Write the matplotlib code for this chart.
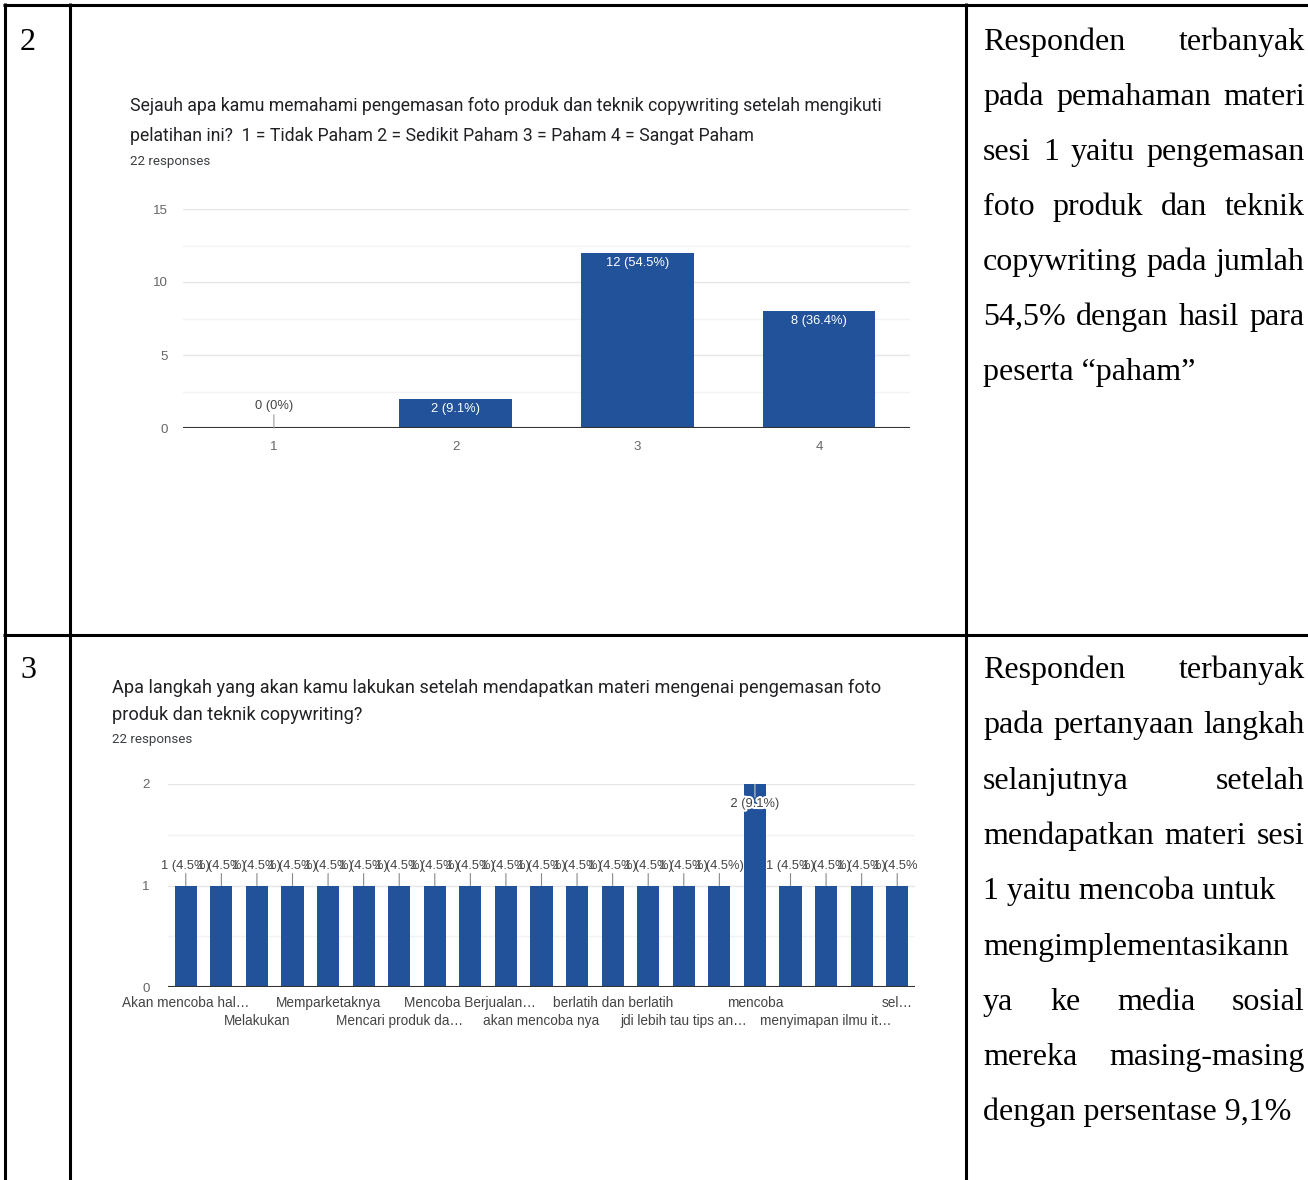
import matplotlib
matplotlib.use("Agg")
import matplotlib.pyplot as plt
from matplotlib import patheffects
from matplotlib.lines import Line2D
from matplotlib.patches import Rectangle

# ---------------- data ----------------
q1_title = ["Sejauh apa kamu memahami pengemasan foto produk dan teknik copywriting setelah mengikuti",
            "pelatihan ini?  1 = Tidak Paham 2 = Sedikit Paham 3 = Paham 4 = Sangat Paham"]
q1_categories = [1, 2, 3, 4]
q1_counts = [0, 2, 12, 8]
q1_responses = 22
q1_yticks = [0, 5, 10, 15]

q2_title = ["Apa langkah yang akan kamu lakukan setelah mendapatkan materi mengenai pengemasan foto",
            "produk dan teknik copywriting?"]
q2_labels = ["Akan mencoba hal…", "", "Melakukan", "", "Memparketaknya", "",
             "Mencari produk da…", "", "Mencoba Berjualan…", "", "akan mencoba nya", "",
             "berlatih dan berlatih", "", "jdi lebih tau tips an…", "", "mencoba", "",
             "menyimapan ilmu it…", "", "sel…"]
q2_counts = [1, 1, 1, 1, 1, 1, 1, 1, 1, 1, 1, 1, 1, 1, 1, 1, 2, 1, 1, 1, 1]
q2_responses = 22
q2_yticks = [0, 1, 2]

row_numbers = ["2", "3"]
note1 = [("Responden terbanyak", True),
         ("pada pemahaman materi", True),
         ("sesi 1 yaitu pengemasan", True),
         ("foto produk dan teknik", True),
         ("copywriting pada jumlah", True),
         ("54,5% dengan hasil para", True),
         ("peserta “paham”", False)]
note2 = [("Responden terbanyak", True),
         ("pada pertanyaan langkah", True),
         ("selanjutnya setelah", True),
         ("mendapatkan materi sesi", True),
         ("1 yaitu mencoba untuk", False),
         ("mengimplementasikann", False),
         ("ya ke media sosial", True),
         ("mereka masing-masing", True),
         ("dengan persentase 9,1%", False)]

# ---------------- style ----------------
W, H = 1308, 1180
BLUE = "#21529a"
GRID = "#e6e6e6"
GRID_MINOR = "#f3f3f3"
TICK_COLOR = "#666666"
LABEL_COLOR = "#444444"
TITLE_COLOR = "#202124"
SANS = ["Liberation Sans", "DejaVu Sans"]
TITLE_FONT = ["Roboto", "DejaVu Sans"]
SERIF = ["Liberation Serif", "DejaVu Serif"]

fig = plt.figure(figsize=(W / 100, H / 100), dpi=100)
fig.patch.set_facecolor("white")
renderer = fig.canvas.get_renderer()


def P(x, y):
    """Pixel position (from top-left) to figure fraction."""
    return x / W, 1 - y / H


def text_width(s, **kw):
    t = fig.text(0, 0, s, **kw)
    w = t.get_window_extent(renderer).width
    t.remove()
    return w


def add_axes_px(left, top, right, bottom):
    return fig.add_axes([left / W, 1 - bottom / H, (right - left) / W, (bottom - top) / H])


def pct_text(v, total):
    pct = f"{v / total * 100:.1f}".rstrip("0").rstrip(".")
    return f"{v} ({pct}%)"


# ---------------- table grid ----------------
LW = 2.2
for (x0, y0, x1, y1) in [(3, 4.5, W, 4.5), (3, 634.5, W, 634.5),
                         (4.5, 3, 4.5, H), (69.5, 3, 69.5, H), (965.5, 3, 965.5, H)]:
    fig.add_artist(Line2D([x0 / W, x1 / W], [1 - y0 / H, 1 - y1 / H],
                          transform=fig.transFigure, color="black", lw=LW,
                          solid_capstyle="butt"))

for num, base in zip(row_numbers, [50, 678]):
    fig.text(*P(20, base), num, family=SERIF, fontsize=23, va="baseline", ha="left")

# ---------------- justified notes ----------------
TX_L, TX_R = 983, 1305


def draw_note(lines, first_base, step):
    for k, (line, justify) in enumerate(lines):
        y = first_base + k * step
        words = line.split()
        if justify and len(words) > 1:
            widths = [text_width(w, family=SERIF, fontsize=23) for w in words]
            gap = (TX_R - TX_L - sum(widths)) / (len(words) - 1)
            x = TX_L
            for w, wd in zip(words, widths):
                fig.text(*P(x, y), w, family=SERIF, fontsize=23, va="baseline", ha="left")
                x += wd + gap
        else:
            fig.text(*P(TX_L, y), line, family=SERIF, fontsize=23, va="baseline", ha="left")


draw_note(note1, 50, 55.0)
draw_note(note2, 678, 55.3)

# ---------------- chart titles ----------------
for line, y in zip(q1_title, [106, 136]):
    fig.text(*P(130, y), line, family=TITLE_FONT, fontsize=12.7,
             color=TITLE_COLOR, va="center", ha="left")
fig.text(*P(130, 162), f"{q1_responses} responses", family=TITLE_FONT, fontsize=9.6,
         color="#3c4043", va="center", ha="left")

for line, y in zip(q2_title, [688, 715]):
    fig.text(*P(112, y), line, family=TITLE_FONT, fontsize=13.05,
             color=TITLE_COLOR, va="center", ha="left")
fig.text(*P(112, 739), f"{q2_responses} responses", family=TITLE_FONT, fontsize=9.6,
         color="#3c4043", va="center", ha="left")


def style_axes(ax, ymax, yticks, minor):
    ax.set_ylim(0, ymax)
    ax.set_yticks(yticks)
    ax.set_yticks(minor, minor=True)
    for s in ax.spines.values():
        s.set_visible(False)
    ax.set_axisbelow(True)
    ax.grid(axis="y", which="major", color=GRID, lw=1.0)
    ax.grid(axis="y", which="minor", color=GRID_MINOR, lw=1.0)
    ax.tick_params(axis="both", which="both", length=0)
    ax.tick_params(axis="y", labelsize=9.6, labelcolor=TICK_COLOR, pad=11)
    for lab in ax.get_yticklabels():
        lab.set_family(SANS)
    ax.axhline(0, color="#333333", lw=1.5, zorder=3)
    ax.patch.set_alpha(0)


# ---------------- chart 1 ----------------
ax1 = add_axes_px(183, 209, 910, 428)
ax1.bar(q1_categories, q1_counts, width=0.62, color=BLUE, zorder=2)
ax1.set_xlim(0.5, 4.5)
style_axes(ax1, 15, q1_yticks, [2.5, 7.5, 12.5])
ax1.set_xticks(q1_categories)
ax1.set_xticklabels([str(c) for c in q1_categories], family=SANS, fontsize=9.6,
                    color=TICK_COLOR)
ax1.tick_params(axis="x", pad=9)
for c, v in zip(q1_categories, q1_counts):
    label = pct_text(v, q1_responses)
    if v > 0:
        ax1.annotate(label, (c, v), xytext=(0, -7.2), textcoords="offset points",
                     ha="center", va="center", color="white", fontsize=9.3, family=SANS,
                     zorder=4)
    else:
        ax1.annotate("", (c, v), xytext=(0, 9.5), textcoords="offset points",
                     arrowprops=dict(arrowstyle="-", color="#999999", lw=0.8,
                                     shrinkA=0, shrinkB=0))
        ax1.annotate(label, (c, v), xytext=(0, 15.8), textcoords="offset points",
                     ha="center", va="center", color=LABEL_COLOR, fontsize=9.3,
                     family=SANS, zorder=4)

# ---------------- chart 2 ----------------
ax2 = add_axes_px(168, 784, 915, 987)
xs = list(range(len(q2_counts)))
ax2.bar(xs, q2_counts, width=0.62, color=BLUE, zorder=2)
ax2.set_xlim(-0.5, len(q2_counts) - 0.5)
style_axes(ax2, 2, q2_yticks, [0.5, 1.5])
ax2.tick_params(axis="y", pad=13)
ax2.set_xticks([])

clip_rect = Rectangle((0, 0), 918 / W, 1, transform=fig.transFigure, visible=False)
fig.add_artist(clip_rect)

ymax2 = max(q2_yticks)
for x, v in zip(xs, q2_counts):
    label = pct_text(v, q2_responses)
    if v >= ymax2:
        ax2.annotate("", (x, v), xytext=(0, -9.4), textcoords="offset points",
                     arrowprops=dict(arrowstyle="-", color="#c8c8c8", lw=0.8,
                                     shrinkA=0, shrinkB=0), zorder=3)
        t = ax2.annotate(label, (x, v), xytext=(0, -14.4), textcoords="offset points",
                         ha="center", va="center", color=LABEL_COLOR, fontsize=9.3,
                         family=SANS, zorder=4)
        t.set_path_effects([patheffects.withStroke(linewidth=3, foreground="white")])
    else:
        ax2.annotate("", (x, v), xytext=(0, 8.6), textcoords="offset points",
                     arrowprops=dict(arrowstyle="-", color="#888888", lw=0.8,
                                     shrinkA=0, shrinkB=0))
        t = ax2.annotate(label, (x, v), xytext=(0, 13.7), textcoords="offset points",
                         ha="center", va="center", color=LABEL_COLOR, fontsize=9.3,
                         family=SANS, zorder=4)
        t.set_clip_path(clip_rect)

# category labels in two staggered rows
shown = [i for i, s in enumerate(q2_labels) if s]
for k, i in enumerate(shown):
    dy = -11.5 if k % 2 == 0 else -24.5
    ax2.annotate(q2_labels[i], (i, 0), xycoords=("data", "axes fraction"),
                 xytext=(0, dy), textcoords="offset points", ha="center", va="center",
                 color=LABEL_COLOR, fontsize=9.8, family=SANS, annotation_clip=False)

fig.savefig("out.png", dpi=100, facecolor="white")
